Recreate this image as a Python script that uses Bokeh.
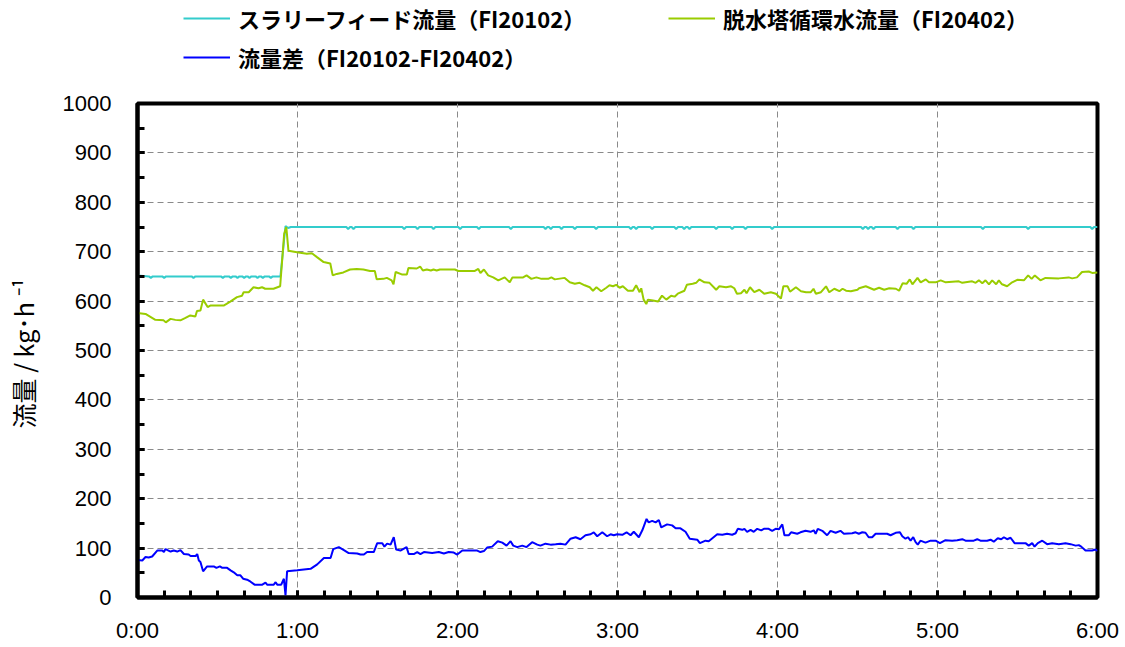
from bokeh.plotting import figure
from bokeh.layouts import column
from bokeh.models import (ColumnDataSource, FixedTicker, Legend, LegendItem, Range1d)
from bokeh.embed import file_html
from bokeh.resources import INLINE

# ---- data (time in minutes from 0:00, flow in kg/h) ----
slurry_t = [0, 4.3, 5, 5.7, 9.3, 10, 10.7, 20.3, 21, 21.7, 31.3, 32, 32.7, 34.3, 35, 35.7,
            36.8, 37.5, 38.2, 39.3, 40, 40.7, 41.3, 42, 42.7, 44.3, 45, 45.7, 46.3, 47, 47.7,
            49.3, 50, 50.7, 53.6, 55.5, 56.5, 57.5, 78.3, 79, 79.7, 80.3, 81, 81.7,
            99.3, 100, 100.7, 104.3, 105, 105.7, 110.3, 111, 111.7, 120.3, 121, 121.7,
            127.3, 128, 128.7, 139.3, 140, 140.7, 152.3, 153, 153.7, 154.3, 155, 155.7,
            158.3, 159, 159.7, 163.3, 164, 164.7, 171.3, 172, 172.7, 184.3, 185, 185.7,
            186.3, 187, 187.7, 192.3, 193, 193.7, 201.3, 202, 202.7, 204.3, 205, 205.7,
            206.3, 207, 207.7, 216.3, 217, 217.7, 222.3, 223, 223.7, 227.3, 228, 228.7,
            237.3, 238, 238.7, 271.3, 272, 272.7, 273.3, 274, 274.7, 275.3, 276, 276.7,
            284.3, 285, 285.7, 290.3, 291, 291.7, 316.3, 317, 317.7, 333.3, 334, 334.7,
            357.3, 358, 358.7, 360]
slurry_v = [652, 650, 647, 650, 650, 647, 650, 650, 647, 650, 650, 647, 650, 650, 647, 650,
            650, 647, 650, 650, 647, 650, 650, 647, 650, 650, 647, 650, 650, 647, 650,
            650, 647, 650, 650, 752, 748, 750, 750, 746, 750, 750, 746, 750,
            750, 746, 750, 750, 746, 750, 750, 746, 750, 750, 746, 750,
            750, 746, 750, 750, 746, 750, 750, 746, 750, 750, 746, 750,
            750, 746, 750, 750, 746, 750, 750, 746, 750, 750, 746, 750,
            750, 746, 750, 750, 746, 750, 750, 746, 750, 750, 746, 750,
            750, 746, 750, 750, 746, 750, 750, 746, 750, 750, 746, 750,
            750, 746, 750, 750, 746, 750, 750, 746, 750, 750, 746, 750,
            750, 746, 750, 750, 746, 750, 750, 746, 750, 750, 746, 750,
            750, 746, 750, 750]

dehyd_t = [0, 3, 6.7, 9.8, 10.6, 12.4, 14.2, 16.1, 18, 19.8, 21.7, 22.3, 23.6, 24.6, 26.3,
           27.3, 32.3, 34.8, 37.3, 39.2, 39.8, 41.7, 43.5, 45.4, 46.7, 47.9, 51, 53.5, 55,
           55.8, 56.6, 59.8, 61, 63.5, 65.4, 67.3, 69.8, 72.3, 73.2, 74.7, 77.2, 79.7, 82.2,
           84.7, 87.2, 89, 89.7, 92.2, 93.5, 95.3, 96, 96.8, 99.1, 101, 101.6, 104.7, 106,
           107, 108.5, 110, 111, 112.2, 113.4, 119, 120.3, 126.5, 127.8, 128.6, 129.9,
           131.5, 133.4, 135.3, 137.7, 139.6, 140.6, 144.6, 145.9, 147.7, 149.6, 151.5,
           154, 155.2, 156.5, 160.2, 162.1, 164, 165.8, 167.7, 169.6, 170.8, 172.1, 173.9,
           175.8, 177, 178.3, 179.5, 180.8, 182, 183.9, 185.8, 187, 188.3, 188.9, 189.8,
           190.8, 191.4, 193.3, 195.2, 196.7, 198.3, 200.1, 201.4, 202.6, 205.1, 206,
           208.2, 209.5, 210.7, 212.6, 214.5, 217, 218.2, 220.7, 222.6, 223.8, 224.8,
           226.3, 227.6, 228.4, 229.7, 231.3, 233.2, 235, 237.5, 239.4, 241.3, 242.2,
           243.8, 244.7, 246.9, 248.8, 250.7, 252.5, 253.5, 254.4, 256.3, 258.2, 259.4,
           261.3, 263.2, 264.4, 265.7, 267.5, 270, 270.6, 273.1, 276.2, 278.1, 280, 281.9,
           284.4, 285.6, 286.9, 288.4, 289.6, 290.6, 292.5, 293.7, 295.6, 296.8, 299.3,
           301.2, 303.1, 308, 309.3, 313, 314.3, 315.5, 316.8, 318, 319.3, 320.5, 322, 323,
           324.2, 326.1, 328, 329.9, 332.4, 334, 335.3, 336.5, 338.6, 340.5, 345.5, 349.2,
           350.5, 352.3, 354.2, 356.7, 358, 360]
dehyd_v = [576, 574, 562, 561, 557, 564, 562, 561, 566, 571, 569, 580, 581, 603, 588,
           591, 591, 599, 608, 611, 618, 618, 628, 626, 628, 625, 625, 630, 736,
           750, 702, 699, 698, 696, 697, 689, 679, 676, 652, 655, 658, 664, 665,
           664, 661, 661, 644, 645, 647, 642, 634, 659, 654, 654, 667, 666, 670,
           662, 664, 662, 664, 662, 664, 664, 661, 661, 665, 657, 664,
           652, 648, 642, 648, 638, 648, 648, 652, 645, 648, 645,
           645, 648, 644, 647, 638, 635, 637, 632, 628, 621, 628, 620,
           627, 632, 630, 633, 627, 630, 621, 621, 632, 618, 626, 603,
           594, 603, 601, 599, 611, 603, 611, 609, 615, 621, 633,
           635, 637, 644, 638, 637, 623, 630, 628, 630, 626, 615,
           616, 623, 616, 628, 618, 623, 615, 618, 615, 605, 630,
           630, 619, 628, 620, 618, 618, 625, 615, 618, 630, 618,
           625, 620, 625, 621, 620, 623, 626, 630, 623, 627, 623, 626,
           625, 621, 636, 635, 644, 634, 647, 638, 644, 638, 638,
           642, 638, 640, 637, 640, 637, 642, 636, 642, 634, 642, 634, 642,
           634, 630, 638, 643, 642, 652, 645, 652, 642, 647, 646, 648,
           646, 648, 659, 660, 657, 658]

diff_t = [0, 1.8, 3, 4.2, 5.5, 7.4, 9.3, 9.9, 10.5, 12.4, 13.6, 14.9, 16.1, 17.4, 19.2,
          19.9, 21.8, 22.4, 23, 23.6, 24.6, 26.1, 28.6, 29.6, 30.9, 31.8, 33.6, 34.9, 36.1,
          37.4, 38.6, 39.6, 41.1, 42.4, 43.9, 46.8, 48, 48.6, 51.1, 51.8, 52.4, 53.9, 54.9,
          55.5, 56.1, 59.9, 64.9, 67.4, 69.9, 72.4, 73.4, 75.5, 77.4, 79.2, 82.4, 83.6,
          84.9, 86.1, 88.6, 89.9, 91.8, 92.6, 93.6, 94.9, 96.1, 97, 98.6, 100.9, 101.7,
          103.6, 104.9, 106.1, 107.4, 110.5, 113, 114.9, 116.7, 118.6, 119.9, 121.8,
          127.4, 128.6, 129.9, 131.1, 133, 135.1, 136.8, 138.4, 139.9, 140.9, 142.4,
          144.3, 145.9, 148, 149.9, 151.1, 153, 154.9, 156.8, 158.6, 160.5, 162.4, 164.3,
          166.1, 168, 169.9, 171.1, 172.4, 174.3, 176.1, 177.4, 178.6, 179.9, 181.8,
          183.4, 184.9, 186.1, 188, 189.3, 190.9, 191.7, 193, 194.3, 195.5, 196.4, 198.6,
          200.5, 201.8, 203.6, 205.5, 207.1, 209.9, 210.9, 213, 214.2, 217.4, 219.3,
          221.1, 223, 224.3, 225.1, 226.8, 227.6, 228.6, 229.9, 231.1, 232.4, 233.9,
          234.9, 236.7, 238, 239.3, 240.5, 241.8, 242.6, 244.2, 245.1, 247.4, 248.6,
          250.5, 252.4, 253.6, 254.3, 255.1, 256.8, 258.6, 259.9, 261.8, 263.6, 264.9,
          268, 269.3, 270.5, 271.8, 273, 274.2, 275.5, 276.8, 281.1, 282.4, 284.3, 285.9,
          286.8, 288, 288.9, 289.9, 290.9, 291.8, 292.6, 293.6, 295.5, 297.4, 299.3,
          300.9, 303, 305.5, 307.4, 309.3, 310.5, 313.6, 314.9, 316.1, 318.6, 319.9,
          321.1, 322.6, 323.9, 324.9, 326.1, 327.4, 328.9, 333, 334.2, 335.5, 336.4,
          337.6, 339.3, 341.1, 343, 345.5, 348, 349.9, 351.8, 353, 353.9, 355.5, 358,
          359.3, 360]
diff_v = [76, 75, 82, 81, 83, 95, 95, 92, 98, 93, 95, 93, 96, 88, 87,
          84, 84, 88, 75, 72, 53, 63, 63, 60, 63, 60, 60, 55, 51,
          45, 45, 38, 36, 32, 26, 26, 30, 26, 26, 31, 26, 26, 38,
          4, 53, 55, 58, 67, 80, 80, 98, 102, 96, 90, 89, 87,
          87, 92, 92, 110, 110, 103, 109, 107, 122, 97, 95, 102, 88,
          88, 92, 88, 92, 90, 92, 89, 92, 91, 87, 95,
          95, 92, 94, 101, 103, 114, 111, 105, 114, 105, 102,
          105, 102, 112, 107, 105, 109, 107, 108, 109, 107, 119, 122,
          118, 126, 128, 132, 124, 132, 124, 128, 126, 128, 127,
          132, 126, 133, 122, 136, 159, 152, 155, 152, 157, 142, 148,
          146, 140, 140, 133, 119, 117, 110, 115, 114, 128, 127,
          129, 127, 130, 139, 137, 139, 133, 137, 133, 139, 136,
          139, 139, 135, 139, 138, 148, 126, 126, 132, 129, 132,
          135, 133, 136, 129, 139, 135, 126, 135, 131, 135, 129,
          130, 132, 129, 132, 131, 122, 122, 129, 129, 126, 131, 132,
          124, 119, 122, 115, 122, 112, 107, 115, 111, 115, 115,
          110, 116, 115, 116, 118, 115, 115, 118, 115, 115, 117,
          113, 120, 118, 122, 118, 121, 110, 110, 105, 110, 103,
          110, 115, 108, 110, 108, 110, 108, 105, 106, 103, 95, 95,
          97, 94]

hour_ticks = [0, 60, 120, 180, 240, 300, 360]
hour_labels = ["0:00", "1:00", "2:00", "3:00", "4:00", "5:00", "6:00"]

series_names = ["スラリーフィード流量（FI20102）",
                "脱水塔循環水流量（FI20402）",
                "流量差（FI20102-FI20402）"]
series_colors = ["#33CCCC", "#99CC00", "#0000FF"]

y_title = "流量 / kg･h  ⁻¹"

sources = [ColumnDataSource(dict(t=tt, v=vv))
           for tt, vv in [(slurry_t, slurry_v), (dehyd_t, dehyd_v), (diff_t, diff_v)]]

# ---- legend strip across the top ----
leg = figure(width=1125, height=80, output_backend="svg", toolbar_location=None,
             x_range=Range1d(0, 1), y_range=Range1d(0, 1),
             x_axis_location=None, y_axis_location=None, min_border=0)
leg.outline_line_color = None
leg.background_fill_color = "white"
leg.border_fill_color = "white"
leg.xgrid.visible = False
leg.ygrid.visible = False

# legend entries: (left, bottom) in px inside the strip's frame
legend_spots = [(46, 46), (531, 46), (46, 7)]
for name, color, src, spot in zip(series_names, series_colors, sources, legend_spots):
    # same series, kept outside this strip's 0..1 view; only its legend swatch shows
    swatch = leg.line("t", "v", source=src, line_color=color, line_width=2)
    lg = Legend(items=[LegendItem(label=name, renderers=[swatch])], location=spot,
                border_line_color=None, background_fill_alpha=0, padding=0, margin=0,
                spacing=0, glyph_width=47, glyph_height=22, label_height=22,
                label_standoff=8, label_text_font="Noto Sans CJK JP",
                label_text_font_size="22px", label_text_font_style="bold",
                label_text_color="black")
    leg.add_layout(lg, "center")

# ---- main chart ----
p = figure(width=1125, height=567, output_backend="svg", toolbar_location=None,
           x_range=Range1d(0, 360), y_range=Range1d(0, 1000),
           min_border_left=137, min_border_right=28, min_border_top=23,
           min_border_bottom=50)
p.background_fill_color = "white"
p.border_fill_color = "white"
p.outline_line_color = "black"
p.outline_line_width = 4

xt = FixedTicker(ticks=hour_ticks, minor_ticks=list(range(0, 361, 10)))
yt = FixedTicker(ticks=list(range(0, 1001, 100)), minor_ticks=list(range(0, 1001, 50)))
p.xaxis.ticker = xt
p.yaxis.ticker = yt
p.xgrid.ticker = xt
p.ygrid.ticker = yt
p.xaxis.major_label_overrides = {t: s for t, s in zip(hour_ticks, hour_labels)}

for ax in (p.xaxis, p.yaxis):
    ax.axis_line_width = 4
    ax.axis_line_color = "black"
    ax.major_tick_in = 7
    ax.major_tick_out = 0
    ax.minor_tick_in = 7
    ax.minor_tick_out = 0
    ax.major_tick_line_width = 3
    ax.minor_tick_line_width = 3
    ax.major_tick_line_color = "black"
    ax.minor_tick_line_color = "black"
    ax.major_label_text_font = "Liberation Sans"
    ax.major_label_text_font_size = "22px"
    ax.major_label_text_color = "black"

p.xaxis.major_label_standoff = 20
p.yaxis.major_label_standoff = 26
p.yaxis.axis_label = y_title
p.yaxis.axis_label_text_font = "Noto Sans CJK JP"
p.yaxis.axis_label_text_font_size = "25px"
p.yaxis.axis_label_text_font_style = "normal"
p.yaxis.axis_label_text_color = "black"
p.yaxis.axis_label_standoff = 19

for g in (p.xgrid, p.ygrid):
    g.grid_line_color = "#8a8a8a"
    g.grid_line_dash = "6 4"
    g.grid_line_width = 1

for src, color in zip(sources, series_colors):
    p.line("t", "v", source=src, line_color=color, line_width=2)

layout = column(leg, p, spacing=0)
open("out.html", "w").write(file_html(layout, INLINE))
